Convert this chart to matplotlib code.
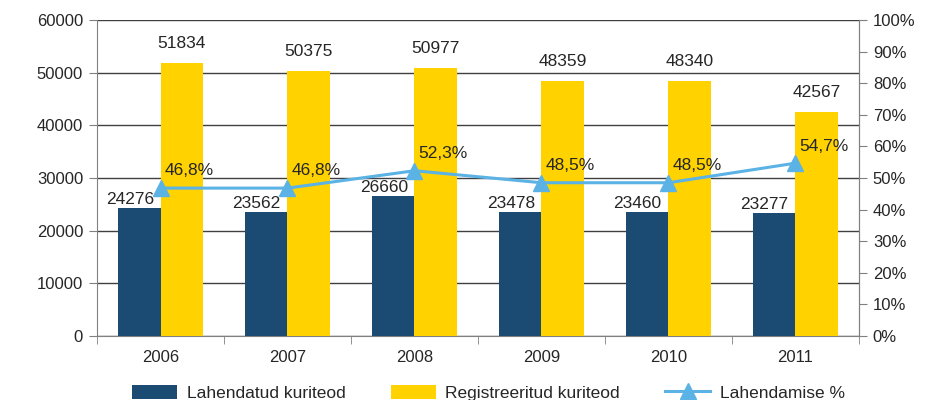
import matplotlib
matplotlib.use("Agg")
import matplotlib.pyplot as plt
import numpy as np

years = ["2006", "2007", "2008", "2009", "2010", "2011"]
solved = [24276, 23562, 26660, 23478, 23460, 23277]
registered = [51834, 50375, 50977, 48359, 48340, 42567]
solved_pct = [46.8, 46.8, 52.3, 48.5, 48.5, 54.7]
pct_labels = ["46,8%", "46,8%", "52,3%", "48,5%", "48,5%", "54,7%"]

DARK = "#1B4B73"
YELLOW = "#FFD200"
BLUE = "#5BB2E5"
TXT = "#262626"

plt.rcParams["font.family"] = ["Liberation Sans", "DejaVu Sans"]

fig = plt.figure(figsize=(9.4, 4.0), dpi=100)
ax = fig.add_axes([0.1032, 0.16, 0.8106, 0.79])
x = np.arange(len(years))
w = 0.335

ax.bar(x - w / 2, solved, w, color=DARK, zorder=3, label="Lahendatud kuriteod")
ax.bar(x + w / 2, registered, w, color=YELLOW, zorder=3, label="Registreeritud kuriteod")
for i in range(len(years)):
    # dark labels sit a bit left of their bar, clear of the line markers
    ax.text(x[i] - w / 2 - 0.075, solved[i] + 760, str(solved[i]), ha="center",
            va="baseline", fontsize=12.5, color=TXT, zorder=5)
    ax.text(x[i] + w / 2, registered[i] + 2850, str(registered[i]), ha="center",
            va="baseline", fontsize=12.5, color=TXT, zorder=5)

ax.set_xlim(-0.5, len(years) - 0.5)
ax.set_ylim(0, 60000)
ax.set_yticks(range(0, 60001, 10000))
ax.set_xticks(x)
ax.set_xticklabels(years)
ax.set_xticks(np.arange(-0.5, len(years)), minor=True)
ax.tick_params(axis="x", which="major", length=0, pad=10, labelsize=12, colors=TXT)
ax.tick_params(axis="x", which="minor", length=6, color="#808080")
ax.tick_params(axis="y", length=6, color="#808080", labelsize=12, colors=TXT, pad=4)
ax.grid(axis="y", color="#404040", linewidth=1.0, zorder=0)
for s in ["left", "bottom", "right"]:
    ax.spines[s].set_color("#808080")
ax.spines["top"].set_visible(False)

ax2 = ax.twinx()
ax2.set_ylim(0, 100)
ax2.set_yticks(range(0, 101, 10))
ax2.set_yticklabels([f"{v}%" for v in range(0, 101, 10)])
ax2.tick_params(axis="y", length=6, color="#808080", labelsize=12, colors=TXT, pad=4)
for s in ["left", "bottom", "top"]:
    ax2.spines[s].set_visible(False)
ax2.spines["right"].set_color("#808080")
ax2.plot(x, solved_pct, color=BLUE, linewidth=2.2, marker="^", markersize=11,
         zorder=4, label="Lahendamise %")
for i in range(len(years)):
    ax2.text(x[i] + 0.03, solved_pct[i] + 4.0, pct_labels[i], ha="left",
             va="baseline", fontsize=12.5, color=TXT, zorder=5)

h1, l1 = ax.get_legend_handles_labels()
h2, l2 = ax2.get_legend_handles_labels()
fig.legend(h1 + h2, l1 + l2, loc="center left", bbox_to_anchor=(0.1404, 0.018), ncol=3,
           frameon=False, fontsize=12.5, handlelength=2.6, handleheight=0.9,
           handletextpad=0.55, columnspacing=2.6, borderpad=0, borderaxespad=0,
           labelcolor=TXT)

fig.savefig("out.png", dpi=100)
